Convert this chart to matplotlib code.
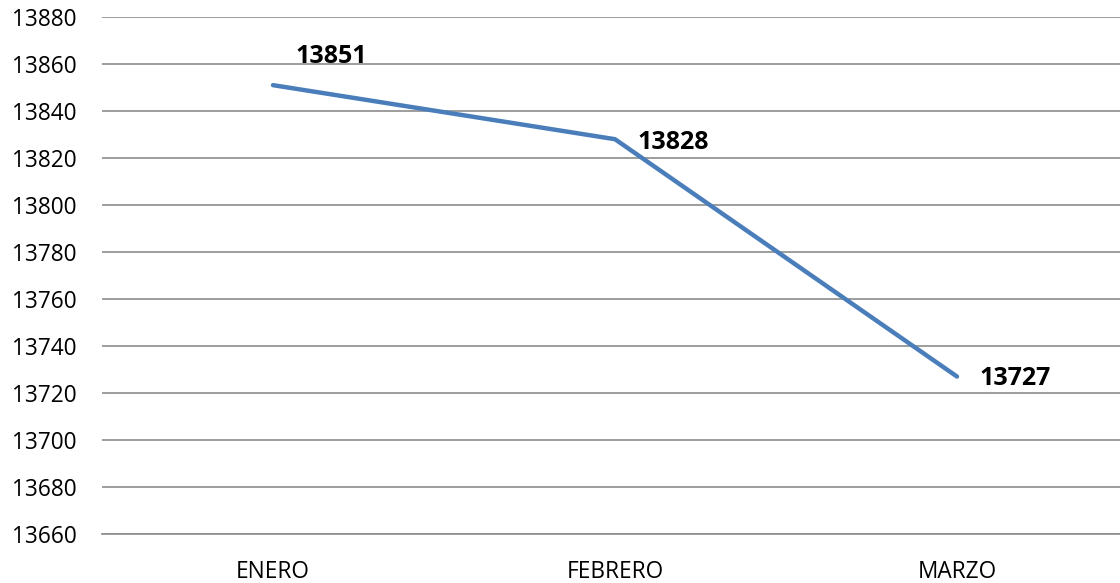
import matplotlib
matplotlib.use("Agg")
import matplotlib.pyplot as plt

months = ["ENERO", "FEBRERO", "MARZO"]
values = [13851, 13828, 13727]
yticks = list(range(13660, 13881, 20))

# label offsets in points (dx, dy, ha)
label_offsets = [(42, 20.5, "center"), (16.5, -2.5, "left"), (16.5, -1.2, "left")]

plt.rcParams['font.family'] = ['Open Sans', 'DejaVu Sans']

fig = plt.figure(figsize=(11.2, 5.83), dpi=100)
W, H = 1120, 583
left, right, top, bottom = 102, 1128, 17, 534
ax = fig.add_axes([left / W, 1 - bottom / H, (right - left) / W, (bottom - top) / H])

x = list(range(len(months)))
ax.plot(x, values, color="#4A7EBB", linewidth=3.2, solid_capstyle="round", solid_joinstyle="miter", zorder=3)

for xi, v, (dx, dy, ha) in zip(x, values, label_offsets):
    ax.annotate(str(v), (xi, v), xytext=(dx, dy), textcoords="offset points",
                ha=ha, va="center", fontsize=18, fontweight="bold", color="black")

ax.set_xlim(-0.5, 2.5)
ax.set_ylim(13660, 13880)
ax.set_yticks(yticks)
ax.set_yticklabels([str(t) for t in yticks])
ax.set_xticks(x)
ax.set_xticklabels(months)
ax.yaxis.grid(True, color="#8C8C8C", linewidth=1.2)
ax.set_axisbelow(True)
for s in ["left", "right", "top"]:
    ax.spines[s].set_visible(False)
ax.spines["bottom"].set_color("#8C8C8C")
ax.spines["bottom"].set_linewidth(1.2)
ax.tick_params(axis="y", length=0, pad=18, labelsize=16.3)
ax.tick_params(axis="x", length=0, pad=18.5, labelsize=16.3)

fig.savefig("out.png", dpi=100)
